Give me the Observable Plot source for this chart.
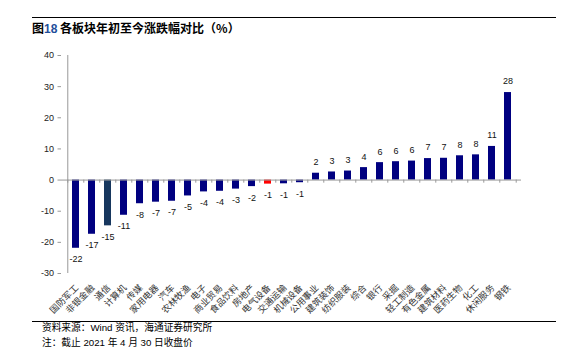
<!DOCTYPE html>
<html>
<head>
<meta charset="utf-8">
<script src="https://cdn.jsdelivr.net/npm/d3@7"></script>
<script src="https://cdn.jsdelivr.net/npm/@observablehq/plot@0.6"></script>
<style>
  html, body { margin: 0; padding: 0; background: #fff; }
  #page { position: relative; width: 571px; height: 356px; overflow: hidden; background: #fff; }
  .rule { position: absolute; left: 32px; width: 524px; height: 0; }
  #title { position: absolute; left: 32px; top: 20px; font-family: "Noto Sans CJK SC", sans-serif; font-weight: bold; font-size: 12px; line-height: 16px; color: #000; white-space: nowrap; }
  #title .num { font-family: "Liberation Sans", Arial, sans-serif; color: #1f4e9a; }
  .foot { position: absolute; left: 42px; font-family: "Liberation Sans", "Noto Sans CJK SC", sans-serif; font-size: 9.7px; line-height: 12px; color: #000; white-space: nowrap; }
  #chart { position: absolute; left: 0; top: 40px; }
  #chart g[aria-label="y-axis tick"] { stroke: #999; }
</style>
</head>
<body>
<div id="page">
  <div class="rule" style="top:17px;border-top:1.5px solid #000;"></div>
  <div id="title">图<span class="num">18</span> 各板块年初至今涨跌幅对比（%）</div>
  <div id="chart"></div>
  <div class="rule" style="top:321px;border-top:1px solid #000;"></div>
  <div class="foot" style="top:321.5px;">资料来源：Wind 资讯，海通证券研究所</div>
  <div class="foot" style="top:336.5px;">注：截止 2021 年 4 月 30 日收盘价</div>
</div>
<script>
const categories = ["国防军工","非银金融","通信","计算机","传媒","家用电器","汽车","农林牧渔","电子","商业贸易","食品饮料","房地产","电气设备","交通运输","机械设备","公用事业","建筑装饰","纺织服装","综合","银行","采掘","轻工制造","有色金属","建筑材料","医药生物","化工","休闲服务","钢铁"];
const values = [-21.9,-17.4,-14.7,-11.3,-7.6,-7.1,-6.8,-5.1,-3.8,-3.6,-2.9,-2.1,-1.3,-1.2,-0.85,2.2,2.6,2.9,4.0,5.6,5.9,6.1,6.9,7.0,7.8,8.1,10.8,28.1];
const yTicks = [-30,-20,-10,0,10,20,30,40];

const data = categories.map((c, i) => ({cat: c, value: values[i], label: String(Math.round(values[i]))}));
const fillFor = d => d.cat === "通信" ? "#17375e" : d.cat === "电气设备" ? "#ff0000" : "#000080";

const W = 571, H = 278, mL = 61, mR = 50, mT = 15, mB = 45;
const halfStep = (W - mL - mR) / categories.length / 2;

const chart = Plot.plot({
  width: W, height: H,
  marginLeft: mL, marginRight: mR, marginTop: mT, marginBottom: mB,
  style: {fontFamily: "'Liberation Sans', Arial, sans-serif", fontSize: "9px", color: "#222", background: "transparent"},
  x: {domain: categories, paddingInner: 0.57, paddingOuter: 0.285, axis: null},
  y: {domain: [-30, 40], ticks: yTicks, tickSize: 3.5, tickPadding: 4, tickFormat: d => String(d), label: null},
  marks: [
    Plot.barY(data, {x: "cat", y: "value", fill: fillFor}),
    Plot.ruleY([0], {stroke: "#999", strokeWidth: 1}),
    Plot.ruleX([categories[0]], {x: d => d, y1: -30, y2: 40, dx: -halfStep, stroke: "#999"}),
    Plot.ruleX(categories, {x: d => d, y1: 0, y2: -1, dx: -halfStep, stroke: "#999"}),
    Plot.ruleX([categories[categories.length - 1]], {x: d => d, y1: 0, y2: -1, dx: halfStep, stroke: "#999"}),
    Plot.text(data.filter(d => d.value >= 0), {x: "cat", y: "value", text: "label", dy: -11, fill: "#111", fontSize: 9}),
    Plot.text(data.filter(d => d.value < 0), {x: "cat", y: "value", text: "label", dy: 11, fill: "#111", fontSize: 9}),
    Plot.text(categories, {x: d => d, frameAnchor: "bottom", text: d => d, rotate: -45, textAnchor: "end", dx: 3, dy: 15, fontSize: 9, fill: "#333", fontFamily: "'Noto Sans CJK SC', sans-serif"})
  ]
});
document.getElementById("chart").appendChild(chart);
</script>
</body>
</html>
